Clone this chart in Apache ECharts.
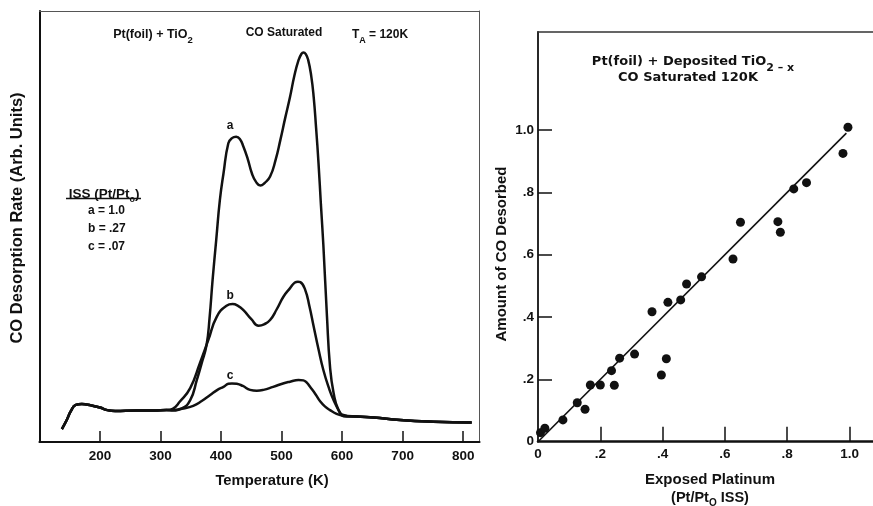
<!DOCTYPE html>
<html>
<head>
<meta charset="utf-8">
<script src="https://cdn.jsdelivr.net/npm/echarts@6/dist/echarts.min.js"></script>
<style>
html,body{margin:0;padding:0;background:#fff}
#chart{width:873px;height:506px}
</style>
</head>
<body>
<div id="chart"></div>
<script>
// ---- Left panel: CO thermal desorption spectra, Pt(foil) + TiO2 ----
// Baseline shared by all three spectra (K, arbitrary units)
const baseLow = [[137,3.0],[145,5.1],[152,7.2],[160,8.6],[170,8.8],[185,8.5],[200,8.0],[212,7.4],[225,7.2],[260,7.3],[290,7.3],[310,7.4]];
const baseHigh = [[624,5.9],[652,5.7],[696,5.1],[751,4.7],[814,4.5]];

// Desorption peaks for ISS (Pt/Pt0) = 1.0, .27, .07
const peakA = [[320,7.4],[335,7.8],[349,9.7],[360,14.4],[368,18.3],[376,22.5],[381,28.8],[386,37.6],[392,46.9],[398,56.1],[404,62.3],[412,69.3],[418,70.5],[425,70.8],[431,70.3],[437,68.5],[444,65.7],[451,62.3],[458,60.3],[465,59.5],[472,60.1],[481,61.6],[490,65.4],[498,70.1],[506,75.2],[514,80.1],[521,84.9],[528,88.6],[533,90.1],[536,90.4],[540,90.0],[544,88.6],[549,84.9],[553,80.1],[557,72.9],[561,64.7],[565,55.0],[569,45.7],[575,29.1],[580,17.5],[586,11.3],[594,7.4],[602,6.3]];
const peakB = [[320,7.7],[332,9.4],[349,12.5],[365,18.3],[379,23.7],[393,29.1],[409,31.6],[419,32.0],[428,31.6],[437,30.6],[450,28.5],[462,27.0],[471,27.3],[481,28.3],[492,30.8],[503,33.7],[514,35.7],[522,37.0],[527,37.2],[531,37.1],[539,35.3],[546,31.5],[553,26.8],[561,21.5],[569,16.7],[578,12.6],[586,9.7],[597,6.7],[602,6.0]];
const peakC = [[320,7.3],[335,7.7],[354,8.4],[368,9.5],[382,10.9],[394,12.1],[404,12.8],[412,13.5],[418,13.6],[426,13.5],[436,13.0],[448,12.1],[459,11.9],[470,12.1],[486,12.8],[505,13.7],[514,14.0],[528,14.4],[536,14.3],[542,13.7],[547,12.8],[556,11.1],[564,9.4],[572,8.2],[580,7.4],[590,6.6],[602,6.1]];

const curveNames = ['a', 'b', 'c'];
const curveLabelAt = [[415, 70.8], [415, 32.0], [415, 13.6]];
const issValues = ['1.0', '.27', '.07'];
const tempTicks = [200, 300, 400, 500, 600, 700, 800];

// ---- Right panel: amount of CO desorbed vs exposed platinum ----
const exposedPt = [0.008,0.022,0.080,0.126,0.151,0.168,0.200,0.236,0.245,0.262,0.310,0.366,0.396,0.412,0.417,0.458,0.477,0.525,0.626,0.650,0.770,0.778,0.821,0.862,0.979,0.995];
const coDesorbed = [0.029,0.043,0.070,0.125,0.104,0.182,0.182,0.228,0.181,0.268,0.281,0.417,0.214,0.266,0.447,0.455,0.506,0.529,0.586,0.704,0.706,0.672,0.811,0.831,0.925,1.009];
const fitLine = [[0, 0], [0.99, 0.99]];
const fracTicks = [0, 0.2, 0.4, 0.6, 0.8, 1.0];

const INK = '#111';
const FONT = '"Liberation Sans", Arial, sans-serif';
const WIDE = '"DejaVu Sans", sans-serif';

function fracLabel(v) {
  if (v === 0) return '0';
  if (Math.abs(v - 1) < 1e-9) return '1.0';
  return '.' + Math.round(v * 10);
}

const spectra = [peakA, peakB, peakC].map(p => baseLow.concat(p, baseHigh));
const labelDist = [5, 2, 2];

const lineSeries = spectra.map((data, i) => ({
  type: 'line',
  xAxisIndex: 0,
  yAxisIndex: 0,
  data: data,
  showSymbol: false,
  smooth: 0.5,
  lineStyle: { color: INK, width: 2.5 },
  z: 3,
  markPoint: {
    symbol: 'circle',
    symbolSize: 0,
    itemStyle: { color: 'rgba(0,0,0,0)' },
    label: {
      show: true, position: 'top', distance: labelDist[i],
      formatter: curveNames[i], color: INK, fontFamily: FONT, fontWeight: 'bold', fontSize: 12
    },
    data: [{ coord: curveLabelAt[i] }]
  }
}));

function txt(x, y, text, size, opts) {
  opts = opts || {};
  const style = {
    text: text, fill: INK, fontFamily: opts.family || FONT, fontWeight: 'bold', fontSize: size,
    align: opts.align || 'center', textAlign: opts.align || 'center',
    verticalAlign: 'middle', textVerticalAlign: 'middle'
  };
  if (opts.rich) style.rich = opts.rich;
  return { type: 'text', x: x, y: y, rotation: opts.rotation || 0, style: style, z: 10 };
}
function subRich(size, subSize, lh, family) {
  const fam = family || FONT;
  return {
    n: { fontFamily: fam, fontWeight: 'bold', fontSize: size, lineHeight: lh, fill: INK, color: INK, verticalAlign: 'middle' },
    s: { fontFamily: fam, fontWeight: 'bold', fontSize: subSize, fill: INK, color: INK, verticalAlign: 'bottom' }
  };
}

const graphics = [
  // left panel header
  txt(153, 35, '{n|Pt(foil) + TiO}{s|2}', 12.5, { rich: subRich(12.5, 9.5, 20) }),
  txt(284, 33, 'CO Saturated', 12),
  txt(380, 35, '{n|T}{s|A}{n| = 120K}', 12, { rich: subRich(12, 9, 20) }),
  // ISS key
  txt(104, 194, '{n|ISS (Pt/Pt}{s|o}{n|)}', 13.5, { rich: subRich(13.5, 9, 20) }),
  { type: 'line', shape: { x1: 66, y1: 198.5, x2: 141, y2: 198.5 }, style: { stroke: INK, lineWidth: 1.6 }, z: 10 },
  txt(88, 211, 'a = ' + issValues[0], 12, { align: 'left' }),
  txt(88, 229, 'b = ' + issValues[1], 12, { align: 'left' }),
  txt(88, 247, 'c = ' + issValues[2], 12, { align: 'left' }),
  // left axis titles
  txt(17, 218, 'CO Desorption Rate (Arb. Units)', 16.5, { rotation: Math.PI / 2 }),
  txt(272, 481, 'Temperature (K)', 14.8),
  // right panel header
  txt(693, 62, '{n|Pt(foil) + Deposited TiO}{s|2 \u2013 x}', 13, { rich: subRich(13, 11, 24, WIDE) }),
  txt(688, 78, 'CO Saturated 120K', 13, { family: WIDE }),
  // right axis titles
  txt(502, 254, 'Amount of CO Desorbed', 15, { rotation: Math.PI / 2 }),
  txt(710, 480, 'Exposed Platinum', 15),
  txt(710, 498, '{n|(Pt/Pt}{s|O}{n| ISS)}', 14.5, { rich: subRich(14.5, 10, 20) })
];

const labelStyle = { color: INK, fontFamily: FONT, fontWeight: 'bold', fontSize: 13.5 };

const option = {
  backgroundColor: '#fff',
  animation: false,
  grid: [
    { left: 39.5, top: 11, width: 440, height: 431 },
    { left: 538, top: 32, width: 335, height: 409.7 }
  ],
  xAxis: [
    {
      gridIndex: 0, type: 'value', min: 100, max: 827, position: 'bottom',
      axisLine: { onZero: false, lineStyle: { color: INK, width: 2.2 } },
      axisTick: { inside: true, length: 11, customValues: tempTicks, lineStyle: { color: INK, width: 1.5 } },
      axisLabel: Object.assign({ customValues: tempTicks, margin: 7 }, labelStyle),
      splitLine: { show: false }
    },
    {
      gridIndex: 0, type: 'value', min: 100, max: 827, position: 'top',
      axisLine: { onZero: false, lineStyle: { color: '#555', width: 1 } },
      axisTick: { show: false }, axisLabel: { show: false }, splitLine: { show: false }
    },
    {
      gridIndex: 1, type: 'value', min: 0, max: 1.0754, position: 'bottom',
      axisLine: { onZero: false, lineStyle: { color: INK, width: 2.5 } },
      axisTick: { inside: true, length: 15, customValues: fracTicks.slice(1), lineStyle: { color: INK, width: 1.5 } },
      axisLabel: Object.assign({ customValues: fracTicks, margin: 6, formatter: fracLabel }, labelStyle),
      splitLine: { show: false }
    },
    {
      gridIndex: 1, type: 'value', min: 0, max: 1.0754, position: 'top',
      axisLine: { onZero: false, lineStyle: { color: '#333', width: 1.5 } },
      axisTick: { show: false }, axisLabel: { show: false }, splitLine: { show: false }
    }
  ],
  yAxis: [
    {
      gridIndex: 0, type: 'value', min: 0, max: 100, position: 'left',
      axisLine: { show: true, onZero: false, lineStyle: { color: INK, width: 2 } },
      axisTick: { show: false }, axisLabel: { show: false }, splitLine: { show: false }
    },
    {
      gridIndex: 0, type: 'value', min: 0, max: 100, position: 'right',
      axisLine: { show: true, onZero: false, lineStyle: { color: '#555', width: 1 } },
      axisTick: { show: false }, axisLabel: { show: false }, splitLine: { show: false }
    },
    {
      gridIndex: 1, type: 'value', min: 0, max: 1.3144, position: 'left',
      axisLine: { show: true, onZero: false, lineStyle: { color: INK, width: 1.8 } },
      axisTick: { inside: true, length: 14, customValues: fracTicks.slice(1), lineStyle: { color: INK, width: 1.5 } },
      axisLabel: Object.assign({ customValues: fracTicks, margin: 4, formatter: fracLabel }, labelStyle),
      splitLine: { show: false }
    }
  ],
  graphic: graphics,
  series: lineSeries.concat([
    {
      type: 'line',
      xAxisIndex: 2, yAxisIndex: 2,
      data: fitLine,
      showSymbol: false,
      lineStyle: { color: INK, width: 1.6 },
      z: 2
    },
    {
      type: 'scatter',
      xAxisIndex: 2, yAxisIndex: 2,
      data: exposedPt.map((x, i) => [x, coDesorbed[i]]),
      symbol: 'circle',
      symbolSize: 9,
      itemStyle: { color: INK, opacity: 1 },
      z: 3
    }
  ])
};

const chart = echarts.init(document.getElementById('chart'), null, { renderer: 'canvas' });
chart.setOption(option);
</script>
</body>
</html>
